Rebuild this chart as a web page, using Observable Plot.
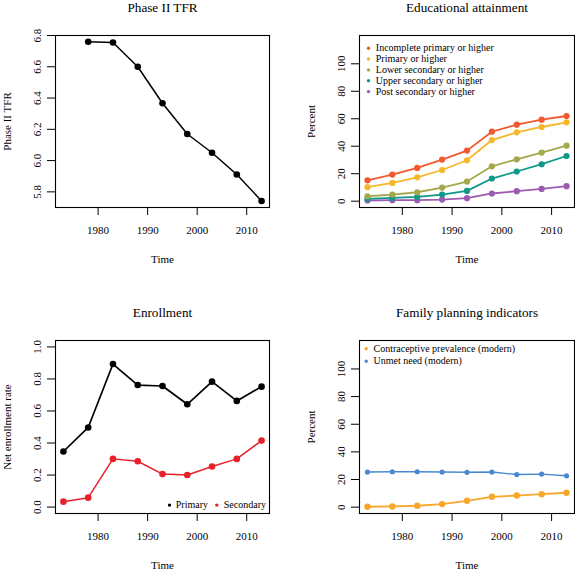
<!DOCTYPE html>
<html>
<head>
<meta charset="utf-8">
<script src="https://cdn.jsdelivr.net/npm/d3@7"></script>
<script src="https://cdn.jsdelivr.net/npm/@observablehq/plot@0.6"></script>
<style>
  html, body { margin: 0; padding: 0; background: #fff; }
  #wrap { position: relative; width: 575px; height: 570px; overflow: hidden; }
  .panel { position: absolute; }
  svg { overflow: visible; }
  #wrap svg, #wrap svg text { font-family: "Liberation Serif", "DejaVu Serif", serif !important; }
</style>
</head>
<body>
<div id="wrap"></div>
<script>
// ---------- data ----------
const years = [1973, 1978, 1983, 1988, 1993, 1998, 2003, 2008, 2013];
const xTicks = [1980, 1990, 2000, 2010];

const tfrYears = [1978, 1983, 1988, 1993, 1998, 2003, 2008, 2013];
const tfr = [6.76, 6.755, 6.60, 6.367, 6.17, 6.05, 5.911, 5.742];
const tfrTicks = [5.8, 6.0, 6.2, 6.4, 6.6, 6.8];

const eduNames = ["Incomplete primary or higher", "Primary or higher", "Lower secondary or higher", "Upper secondary or higher", "Post secondary or higher"];
const eduColors = ["#F4582F", "#F6B72D", "#A3A94B", "#10998A", "#9B5BB0"];
const incompletePrimary = [15.2, 19.4, 24.2, 30.3, 36.8, 50.6, 55.7, 59.3, 62.0];
const primaryOrHigher = [10.2, 13.3, 17.4, 22.7, 29.8, 44.5, 50.1, 54.0, 57.4];
const lowerSecondary = [3.6, 4.8, 6.5, 9.9, 14.3, 25.4, 30.5, 35.4, 40.4];
const upperSecondary = [1.7, 2.4, 3.1, 4.8, 7.5, 16.5, 21.6, 26.9, 32.9];
const postSecondary = [0.5, 0.7, 0.7, 1.2, 2.2, 5.6, 7.3, 8.9, 10.9];
const percentTicks = [0, 20, 40, 60, 80, 100];

const enrollNames = ["Primary", "Secondary"];
const enrollColors = ["#000000", "#E8202A"];
const enrollPrimary = [0.347, 0.497, 0.893, 0.762, 0.756, 0.642, 0.783, 0.663, 0.752];
const enrollSecondary = [0.034, 0.059, 0.301, 0.286, 0.206, 0.200, 0.253, 0.301, 0.415];
const enrollTicks = [0.0, 0.2, 0.4, 0.6, 0.8, 1.0];

const fpNames = ["Contraceptive prevalence (modern)", "Unmet need (modern)"];
const fpColors = ["#F9A72B", "#4A89D0"];
const contraceptive = [0.3, 0.5, 1.0, 2.2, 4.6, 7.5, 8.4, 9.4, 10.4];
const unmetNeed = [25.4, 25.6, 25.6, 25.4, 25.2, 25.4, 23.6, 23.9, 22.7];

// ---------- helpers ----------
const FONT = "Liberation Serif";
const xDomain = [1971.4, 2014.6];

function rows(xs, ys, series) {
  return xs.map((x, i) => ({x, y: ys[i], series}));
}

function baseMarks({title, ylabel, yTicks, yFormat}) {
  return [
    Plot.frame({stroke: "black", strokeWidth: 1.1}),
    Plot.axisX({ticks: xTicks, tickSize: 8, tickPadding: 11, tickFormat: d3.format("d"), fontSize: 11, fontFamily: FONT, label: null}),
    Plot.axisY({ticks: yTicks, tickSize: 8, tickFormat: () => "", label: null}),
    Plot.text(yTicks, {y: d => d, frameAnchor: "left", dx: -15, rotate: -90, text: yFormat, fontSize: 11, fontFamily: FONT, textAnchor: "middle", lineAnchor: "bottom", fill: "black"}),
    Plot.text([title], {frameAnchor: "top", dy: -28, fontSize: 13.2, fontFamily: FONT, lineAnchor: "middle", fill: "black"}),
    Plot.text(["Time"], {frameAnchor: "bottom", dy: 52, fontSize: 11, fontFamily: FONT, lineAnchor: "middle", fill: "black"}),
    Plot.text([ylabel], {frameAnchor: "left", dx: -48, rotate: -90, fontSize: 11, fontFamily: FONT, lineAnchor: "middle", textAnchor: "middle", fill: "black"})
  ];
}

function seriesMarks(data, color, r, sw) {
  return [
    Plot.line(data, {x: "x", y: "y", stroke: color, strokeWidth: sw}),
    Plot.dot(data, {x: "x", y: "y", fill: color, r: r, stroke: "none"})
  ];
}

function place(svg, left, top) {
  const d = document.createElement("div");
  d.className = "panel";
  d.style.left = left + "px";
  d.style.top = top + "px";
  d.appendChild(svg);
  document.getElementById("wrap").appendChild(d);
}

const baseStyle = {fontFamily: FONT, background: "transparent", color: "black"};

// ---------- panel 1: Phase II TFR ----------
const p1 = Plot.plot({
  width: 288, height: 285,
  marginLeft: 55, marginRight: 19, marginTop: 35, marginBottom: 78,
  style: baseStyle,
  x: {domain: xDomain},
  y: {domain: [5.70, 6.80]},
  marks: [
    ...baseMarks({title: "Phase II TFR", ylabel: "Phase II TFR", yTicks: tfrTicks, yFormat: d3.format(".1f")}),
    ...seriesMarks(rows(tfrYears, tfr, "tfr"), "black", 3.3, 1.5)
  ]
});
place(p1, 0, 0);

// ---------- panel 2: Educational attainment ----------
const eduSeries = [incompletePrimary, primaryOrHigher, lowerSecondary, upperSecondary, postSecondary];
const p2 = Plot.plot({
  width: 287, height: 285,
  marginLeft: 71, marginRight: 1, marginTop: 35, marginBottom: 78,
  style: baseStyle,
  x: {domain: xDomain},
  y: {domain: [-4.6, 120.6]},
  marks: [
    ...baseMarks({title: "Educational attainment", ylabel: "Percent", yTicks: percentTicks, yFormat: d3.format("d")}),
    ...eduSeries.slice().reverse().flatMap((s, j) => {
      const i = eduSeries.length - 1 - j;
      return seriesMarks(rows(years, s, eduNames[i]), eduColors[i], 3.1, 1.8);
    }),
    ...eduNames.flatMap((name, i) => [
      Plot.dot([name], {frameAnchor: "top-left", dx: 9, dy: 12.7 + i * 10.85, r: 1.7, fill: eduColors[i]}),
      Plot.text([name], {frameAnchor: "top-left", dx: 16.3, dy: 12.7 + i * 10.85, fontSize: 10, fontFamily: FONT, textAnchor: "start", lineAnchor: "middle", fill: "black"})
    ])
  ]
});
place(p2, 288, 0);

// ---------- panel 3: Enrollment ----------
const p3 = Plot.plot({
  width: 288, height: 285,
  marginLeft: 55, marginRight: 19, marginTop: 55, marginBottom: 57,
  style: baseStyle,
  x: {domain: xDomain},
  y: {domain: [-0.04, 1.04]},
  marks: [
    ...baseMarks({title: "Enrollment", ylabel: "Net enrollment rate", yTicks: enrollTicks, yFormat: d3.format(".1f")}),
    ...seriesMarks(rows(years, enrollPrimary, "Primary"), enrollColors[0], 3.3, 1.7),
    ...seriesMarks(rows(years, enrollSecondary, "Secondary"), enrollColors[1], 3.3, 1.5),
    Plot.dot([enrollNames[0]], {frameAnchor: "bottom-left", dx: 114, dy: -8.4, r: 1.7, fill: enrollColors[0]}),
    Plot.text([enrollNames[0]], {frameAnchor: "bottom-left", dx: 120.3, dy: -8.4, fontSize: 10, fontFamily: FONT, textAnchor: "start", lineAnchor: "middle", fill: "black"}),
    Plot.dot([enrollNames[1]], {frameAnchor: "bottom-left", dx: 161.3, dy: -8.4, r: 1.7, fill: enrollColors[1]}),
    Plot.text([enrollNames[1]], {frameAnchor: "bottom-left", dx: 168.3, dy: -8.4, fontSize: 10, fontFamily: FONT, textAnchor: "start", lineAnchor: "middle", fill: "black"})
  ]
});
place(p3, 0, 285);

// ---------- panel 4: Family planning indicators ----------
const p4 = Plot.plot({
  width: 287, height: 285,
  marginLeft: 71, marginRight: 1, marginTop: 55, marginBottom: 57,
  style: baseStyle,
  x: {domain: xDomain},
  y: {domain: [-4.6, 120.6]},
  marks: [
    ...baseMarks({title: "Family planning indicators", ylabel: "Percent", yTicks: percentTicks, yFormat: d3.format("d")}),
    ...seriesMarks(rows(years, unmetNeed, fpNames[1]), fpColors[1], 2.6, 1.4),
    ...seriesMarks(rows(years, contraceptive, fpNames[0]), fpColors[0], 3.2, 1.8),
    ...fpNames.flatMap((name, i) => [
      Plot.dot([name], {frameAnchor: "top-left", dx: 6.7, dy: 8.3 + i * 12.4, r: 1.7, fill: fpColors[i]}),
      Plot.text([name], {frameAnchor: "top-left", dx: 14, dy: 8.3 + i * 12.4, fontSize: 10, fontFamily: FONT, textAnchor: "start", lineAnchor: "middle", fill: "black"})
    ])
  ]
});
place(p4, 288, 285);
</script>
</body>
</html>
